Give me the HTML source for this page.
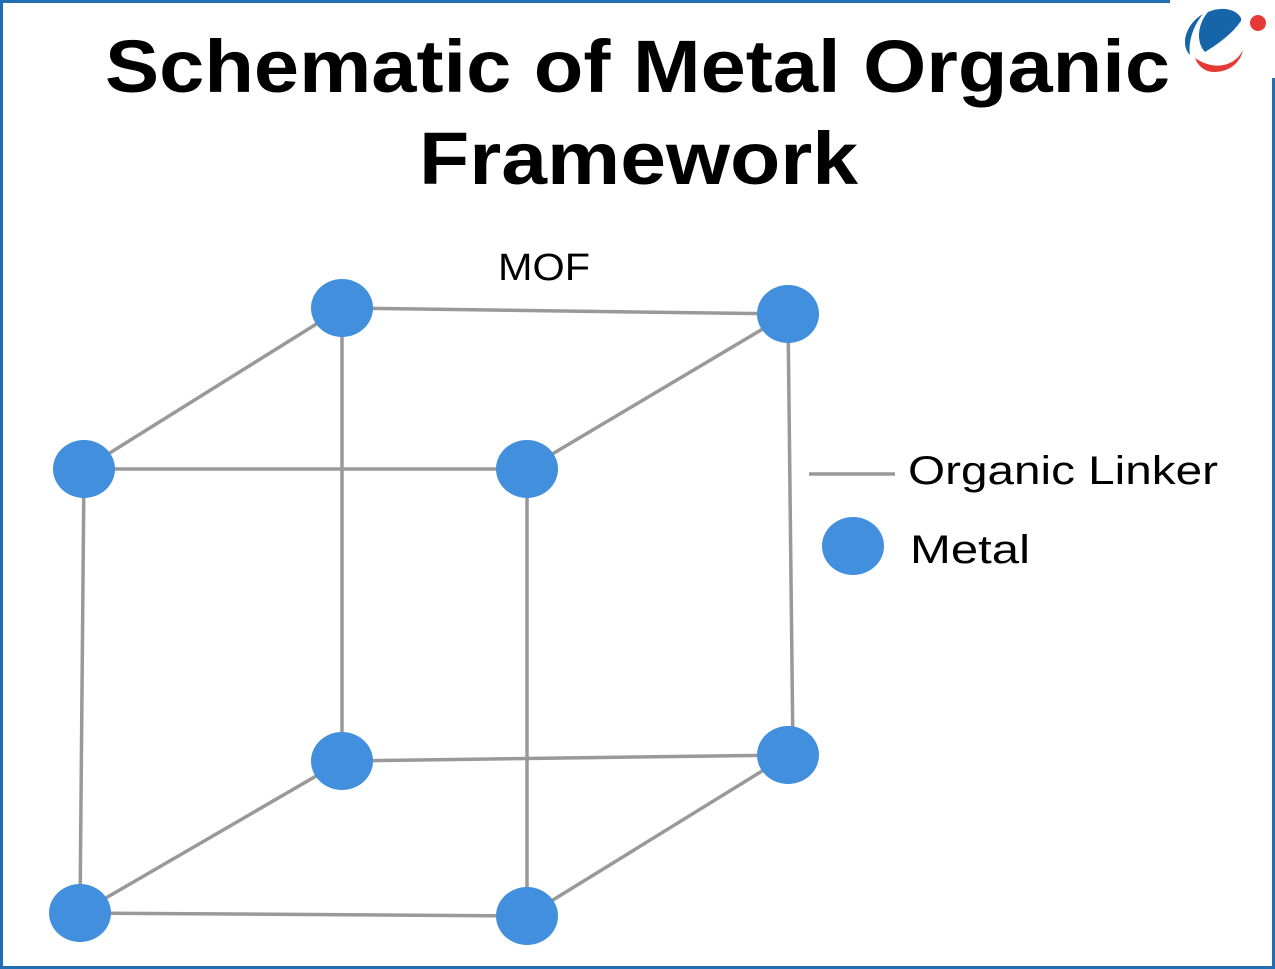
<!DOCTYPE html>
<html><head><meta charset="utf-8"><style>
html,body{margin:0;padding:0;background:#fff;}
svg{display:block;}
</style></head><body>
<svg width="1275" height="969" viewBox="0 0 1275 969" xmlns="http://www.w3.org/2000/svg">
<rect width="1275" height="969" fill="#fff"/>
<g stroke="#1f6fb2" stroke-width="3" fill="none">
<line x1="0" y1="1.5" x2="1170" y2="1.5"/>
<line x1="1.5" y1="0" x2="1.5" y2="969"/>
<line x1="0" y1="967.5" x2="1275" y2="967.5"/>
<line x1="1273.5" y1="78" x2="1273.5" y2="969"/>
</g>
<!-- logo -->
<path d="M1203,14 C1192,20 1185,32 1185,42 C1185,48 1187,52 1190,55 C1188,42 1193,26 1203,14 Z" fill="#1565a8"/>
<path d="M1208,12 C1222,6 1236,9 1241,18 L1241,21 C1232,34 1218,44 1205,52 C1197,44 1196,26 1208,12 Z" fill="#1565a8"/>
<path d="M1195,58 C1212,70 1234,68 1243,50 C1240,64 1228,72 1214,72 C1205,72 1198,66 1195,58 Z" fill="#e53935"/>
<circle cx="1258" cy="23" r="8" fill="#e53935"/>
<g font-family="'Liberation Sans',sans-serif" font-weight="bold" font-size="74" fill="#000">
<text x="105" y="92" textLength="1065" lengthAdjust="spacingAndGlyphs">Schematic of Metal Organic</text>
<text x="419" y="184" textLength="439" lengthAdjust="spacingAndGlyphs">Framework</text>
</g>
<text x="498" y="280" font-family="'Liberation Sans',sans-serif" font-size="38" fill="#000" textLength="92" lengthAdjust="spacingAndGlyphs">MOF</text>
<g stroke="#999" stroke-width="3.5" fill="none">
<line x1="342" y1="308" x2="788" y2="314"/>
<line x1="84" y1="469" x2="527" y2="469"/>
<line x1="342" y1="761" x2="788" y2="755"/>
<line x1="80" y1="913" x2="527" y2="916"/>
<line x1="342" y1="308" x2="84" y2="469"/>
<line x1="788" y1="314" x2="527" y2="469"/>
<line x1="342" y1="761" x2="80" y2="913"/>
<line x1="788" y1="755" x2="527" y2="916"/>
<line x1="342" y1="308" x2="342" y2="761"/>
<line x1="788" y1="314" x2="793" y2="755"/>
<line x1="84" y1="469" x2="80" y2="913"/>
<line x1="527" y1="469" x2="527" y2="916"/>
<line x1="809" y1="474" x2="895" y2="474"/>
</g>
<g fill="#428fde">
<ellipse cx="342" cy="308" rx="31" ry="29"/>
<ellipse cx="788" cy="314" rx="31" ry="29"/>
<ellipse cx="84" cy="469" rx="31" ry="29"/>
<ellipse cx="527" cy="469" rx="31" ry="29"/>
<ellipse cx="342" cy="761" rx="31" ry="29"/>
<ellipse cx="788" cy="755" rx="31" ry="29"/>
<ellipse cx="80" cy="913" rx="31" ry="29"/>
<ellipse cx="527" cy="916" rx="31" ry="29"/>
<ellipse cx="853" cy="546" rx="31" ry="29"/>
</g>
<g font-family="'Liberation Sans',sans-serif" font-size="40" fill="#000">
<text x="908" y="484" textLength="310" lengthAdjust="spacingAndGlyphs">Organic Linker</text>
<text x="910" y="563" textLength="120" lengthAdjust="spacingAndGlyphs">Metal</text>
</g>
</svg>
</body></html>
